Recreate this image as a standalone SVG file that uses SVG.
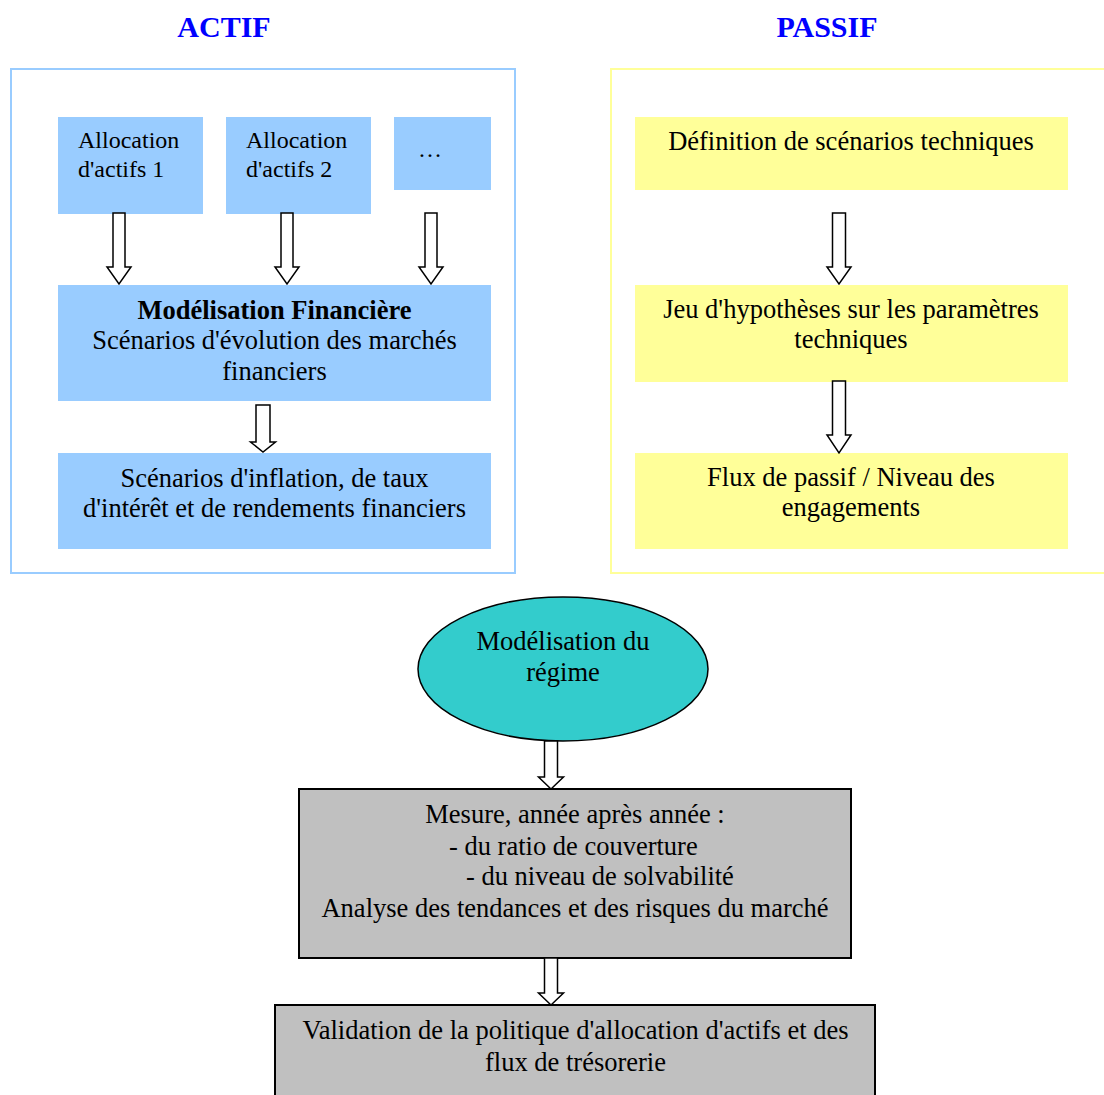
<svg xmlns="http://www.w3.org/2000/svg" width="1104" height="1095" viewBox="0 0 1104 1095">
<style>
.t{font-size:26.5px;text-anchor:middle;}
.s{font-size:24px;}
.title{font-size:30px;font-weight:bold;fill:#0000FF;text-anchor:middle;}
.blue{fill:#99CCFF;}
.yel{fill:#FFFF99;}
.gray{fill:#C0C0C0;stroke:#000;stroke-width:2;}
.arr{fill:#fff;stroke:#000;stroke-width:1.5;stroke-linejoin:miter;}
</style>
<rect width="1104" height="1095" fill="#fff"/>
<g font-family="'Liberation Serif', 'Times New Roman', Times, serif" fill="#000">
<text class="title" x="224" y="37">ACTIF</text>
<text class="title" x="827" y="37">PASSIF</text>
<g id="frame-actif"><rect x="11" y="69" width="504" height="504" fill="none" stroke="#99CCFF" stroke-width="2"/></g>
<g id="frame-passif"><rect x="611" y="69" width="510" height="504" fill="none" stroke="#FFFF99" stroke-width="2"/></g>
<g id="alloc1"><rect class="blue" x="58" y="117" width="145" height="97"/><text class="s" x="78" y="148">Allocation</text><text class="s" x="78" y="177">d'actifs 1</text></g>
<g id="alloc2"><rect class="blue" x="226" y="117" width="145" height="97"/><text class="s" x="246" y="148">Allocation</text><text class="s" x="246" y="177">d'actifs 2</text></g>
<g id="alloc3"><rect class="blue" x="394" y="117" width="97" height="73"/><text class="s" x="430" y="157" text-anchor="middle">…</text></g>
<g id="modfin"><rect class="blue" x="58" y="285" width="433" height="116"/>
<text class="t" x="274.5" y="319" font-weight="bold">Modélisation Financière</text>
<text class="t" x="274.5" y="349">Scénarios d'évolution des marchés</text>
<text class="t" x="274.5" y="380">financiers</text></g>
<g id="scen"><rect class="blue" x="58" y="453" width="433" height="96"/>
<text class="t" x="274.5" y="487">Scénarios d'inflation, de taux</text>
<text class="t" x="274.5" y="517">d'intérêt et de rendements financiers</text></g>
<g id="def"><rect class="yel" x="635" y="117" width="433" height="73"/>
<text class="t" x="851" y="150">Définition de scénarios techniques</text></g>
<g id="jeu"><rect class="yel" x="635" y="285" width="433" height="97"/>
<text class="t" x="851" y="318">Jeu d'hypothèses sur les paramètres</text>
<text class="t" x="851" y="348">techniques</text></g>
<g id="flux"><rect class="yel" x="635" y="453" width="433" height="96"/>
<text class="t" x="851" y="486">Flux de passif / Niveau des</text>
<text class="t" x="851" y="516">engagements</text></g>
<g id="regime"><ellipse cx="563" cy="669" rx="145" ry="72" fill="#33CCCC" stroke="#000" stroke-width="1.5"/>
<text class="t" x="563" y="650">Modélisation du</text>
<text class="t" x="563" y="681">régime</text></g>
<g id="mesure"><rect class="gray" x="299" y="789" width="552" height="169"/>
<text class="t" x="575" y="823">Mesure, année après année :</text>
<text class="t" x="449" y="855" style="text-anchor:start">- du ratio de couverture</text>
<text class="t" x="466" y="885" style="text-anchor:start">- du niveau de solvabilité</text>
<text class="t" x="575" y="917">Analyse des tendances et des risques du marché</text></g>
<g id="validation"><rect class="gray" x="275" y="1005" width="600" height="100"/>
<text class="t" x="575.5" y="1039">Validation de la politique d'allocation d'actifs et des</text>
<text class="t" x="575.5" y="1071">flux de trésorerie</text></g>
</g>
<g id="connectors">
<polygon class="arr" points="113,213 125,213 125,267 131,267 119,284 107,267 113,267"/>
<polygon class="arr" points="281,213 293,213 293,267 299,267 287,284 275,267 281,267"/>
<polygon class="arr" points="425,213 437,213 437,267 443,267 431,284 419,267 425,267"/>
<polygon class="arr" points="256,405 270,405 270,442 275.5,442 263,452 250.5,442 256,442"/>
<polygon class="arr" points="832.5,213 845.5,213 845.5,267 851,267 839,284 827,267 832.5,267"/>
<polygon class="arr" points="832.5,381 845.5,381 845.5,435 851,435 839,453 827,435 832.5,435"/>
<polygon class="arr" points="544.5,741 557.5,741 557.5,777 563.5,777 551,789 538.5,777 544.5,777"/>
<polygon class="arr" points="544.5,958 557.5,958 557.5,993 563.5,993 551,1005 538.5,993 544.5,993"/>
</g>
</svg>
